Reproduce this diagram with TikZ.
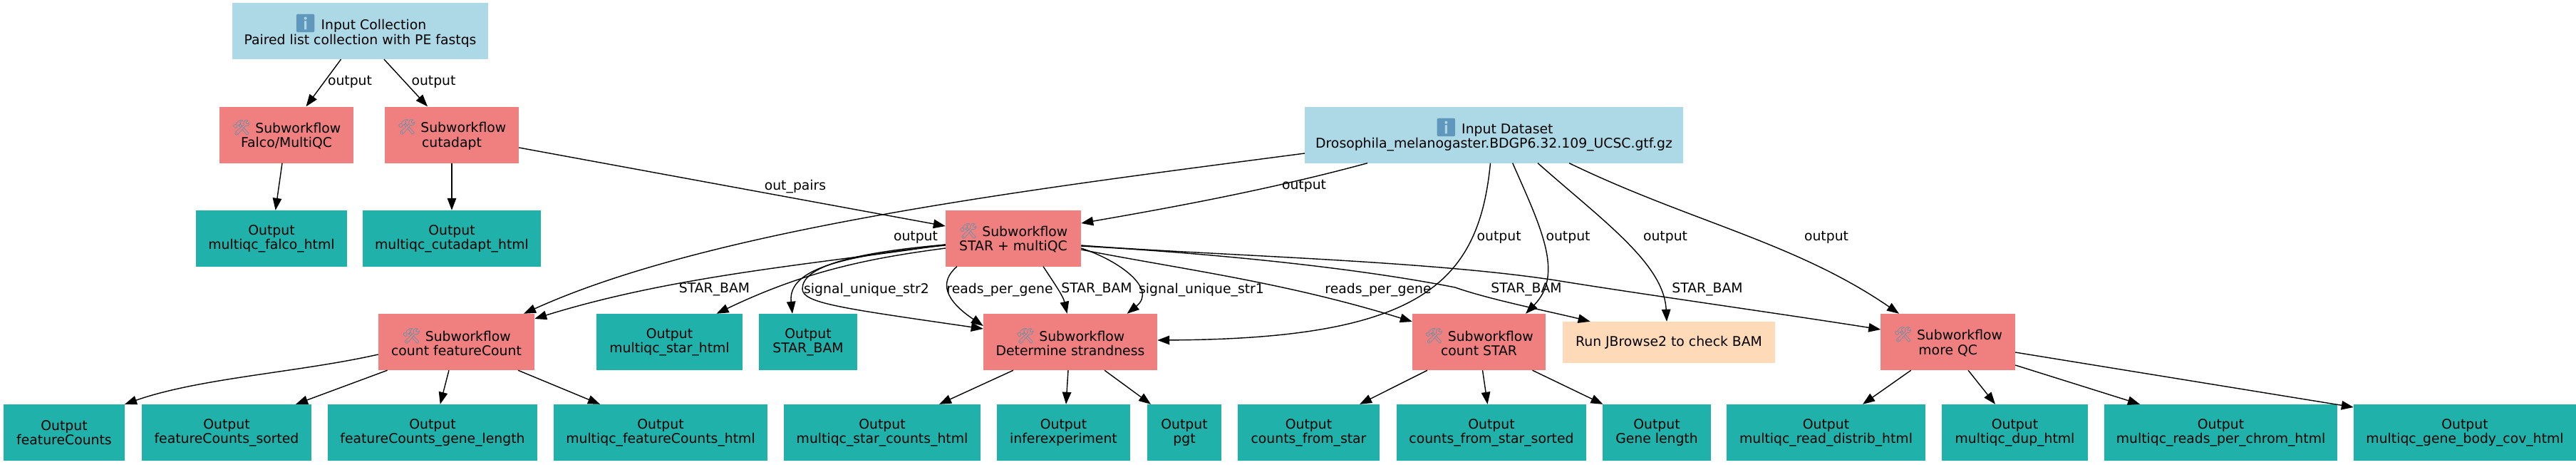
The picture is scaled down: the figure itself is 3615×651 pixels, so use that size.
\documentclass[tikz,border=0pt]{standalone}
\usepackage{fontspec}
\setmainfont{DejaVu Sans}
\newfontfamily\emofont{Noto Emoji}
\usetikzlibrary{arrows.meta}
\definecolor{inpc}{HTML}{ADD8E6}
\definecolor{subc}{HTML}{F08080}
\definecolor{outc}{HTML}{20B2AA}
\definecolor{jbc}{HTML}{FFDAB9}
\definecolor{toolc}{HTML}{5F93AB}
\definecolor{infoc}{HTML}{5F97BD}
\newcommand\toolmark{{\emofont\fontsize{21}{20.5}\selectfont\textcolor{toolc}{🛠}}}
\newcommand\infomark{{\emofont\fontsize{25}{20.5}\selectfont\textcolor{infoc}{ℹ}}}
\tikzset{
  wfbox/.style={draw=none,inner sep=0pt,align=center,font=\fontsize{18.8}{20.5}\selectfont},
  inbox/.style={wfbox,fill=inpc,minimum height=79pt},
  subbox/.style={wfbox,fill=subc,minimum height=79pt},
  outbox/.style={wfbox,fill=outc,minimum height=79pt},
  jbbox/.style={wfbox,fill=jbc,minimum height=58pt},
  edge/.style={-{Triangle[length=17pt,width=12.5pt]},line width=1.4pt,black},
  lab/.style={inner sep=0pt,font=\fontsize{18.8}{20.5}\selectfont}
}
\begin{document}
\begin{tikzpicture}[x=1pt,y=-1pt]
\useasboundingbox (0,0) rectangle (3615,651);
\fill[white] (0,0) rectangle (3615,651);
% nodes
\node[inbox,minimum width=359pt] (ic) at (505.5,43.5) {\infomark{} Input Collection\\Paired list collection with PE fastqs};
\node[subbox,minimum width=188pt] (falco) at (402,189) {\toolmark{} Subworkflow\\Falco/MultiQC};
\node[subbox,minimum width=188pt] (cut) at (634,189) {\toolmark{} Subworkflow\\cutadapt};
\node[outbox,minimum width=212pt] (oF) at (381,334.5) {Output\\multiqc\_falco\_html};
\node[outbox,minimum width=250pt] (oC) at (634,334.5) {Output\\multiqc\_cutadapt\_html};
\node[inbox,minimum width=531pt] (ds) at (2096.5,189) {\infomark{} Input Dataset\\Drosophila\_melanogaster.BDGP6.32.109\_UCSC.gtf.gz};
\node[subbox,minimum width=190pt] (star) at (1422,334) {\toolmark{} Subworkflow\\STAR + multiQC};
\node[subbox,minimum width=219pt] (fc) at (640.5,479.5) {\toolmark{} Subworkflow\\count featureCount};
\node[outbox,minimum width=205pt] (mstar) at (939.5,479.5) {Output\\multiqc\_star\_html};
\node[outbox,minimum width=138pt] (obam) at (1134,479.5) {Output\\STAR\_BAM};
\node[subbox,minimum width=244pt] (det) at (1502,479.5) {\toolmark{} Subworkflow\\Determine strandness};
\node[subbox,minimum width=187pt] (cstar) at (2075.5,479.5) {\toolmark{} Subworkflow\\count STAR};
\node[jbbox,minimum width=298pt] (jb) at (2342,480) {Run JBrowse2 to check BAM};
\node[subbox,minimum width=188.5pt] (mqc) at (2733.7,479.5) {\toolmark{} Subworkflow\\more QC};
\node[outbox,minimum width=170pt] (o1) at (90,606.5) {Output\\featureCounts};
\node[outbox,minimum width=238pt] (o2) at (318,606.5) {Output\\featureCounts\_sorted};
\node[outbox,minimum width=294pt] (o3) at (607,606.5) {Output\\featureCounts\_gene\_length};
\node[outbox,minimum width=300pt] (o4) at (927,606.5) {Output\\multiqc\_featureCounts\_html};
\node[outbox,minimum width=276pt] (o5) at (1238,606.5) {Output\\multiqc\_star\_counts\_html};
\node[outbox,minimum width=187pt] (o6) at (1492.5,606.5) {Output\\inferexperiment};
\node[outbox,minimum width=104pt] (o7) at (1662,606.5) {Output\\pgt};
\node[outbox,minimum width=199pt] (o8) at (1836.5,606.5) {Output\\counts\_from\_star};
\node[outbox,minimum width=266pt] (o9) at (2093,606.5) {Output\\counts\_from\_star\_sorted};
\node[outbox,minimum width=152pt] (o10) at (2325,606.5) {Output\\Gene length};
\node[outbox,minimum width=279pt] (o11) at (2562.5,606.5) {Output\\multiqc\_read\_distrib\_html};
\node[outbox,minimum width=205pt] (o12) at (2827.5,606.5) {Output\\multiqc\_dup\_html};
\node[outbox,minimum width=327pt] (o13) at (3116.5,606.5) {Output\\multiqc\_reads\_per\_chrom\_html};
\node[outbox,minimum width=312pt] (o14) at (3459,606.5) {Output\\multiqc\_gene\_body\_cov\_html};
% edges
\begin{scope}[every path/.append style={edge}]
\draw ([xshift=-27pt]ic.south) -- ([xshift=27.5pt]falco.north);
\draw ([xshift=33.5pt]ic.south) -- ([xshift=-34pt]cut.north);
\draw ([xshift=-6pt]falco.south) -- ([xshift=5.6pt]oF.north);
\draw (cut.south) -- (oC.north);
\draw ([yshift=-18pt]cut.east) -- ([yshift=17pt]star.west);
\draw ([yshift=-26pt]ds.west) .. controls (1450,265) and (1000,320) .. ([xshift=94.5pt]fc.north);
\draw ([xshift=-177.5pt]ds.south) .. controls (1785,265) and (1650,290) .. ([yshift=21pt]star.east);
\draw ([xshift=-5pt]ds.south) .. controls (2075,400) and (1990,475) .. ([yshift=2.5pt]det.east);
\draw ([xshift=26.2pt]ds.south) .. controls (2163,320) and (2195,385) .. ([xshift=65.5pt]cstar.north);
\draw ([xshift=61.5pt]ds.south) .. controls (2250,310) and (2335,370) .. ([xshift=-3pt]jb.north);
\draw ([xshift=105.5pt]ds.south) .. controls (2370,310) and (2520,340) .. ([xshift=-68.7pt]mqc.north);
\draw ([yshift=-9pt]star.west) .. controls (1150,370) and (950,385) .. ([yshift=32.5pt]fc.east);
\draw ([yshift=-14pt]star.west) .. controls (1220,362) and (1130,380) .. ([xshift=66pt]mstar.north);
\draw ([yshift=-10pt]star.west) .. controls (1190,358) and (1105,375) .. ([xshift=-22pt]obam.north);
\draw ([yshift=-9pt]star.west) .. controls (1190,355) and (1126,375) .. (1126,405) .. controls (1126,425) and (1180,432) .. ([yshift=18.5pt]det.west);
\draw ([xshift=-79pt]star.south) .. controls (1318,395) and (1325,420) .. ([yshift=22.5pt]det.west);
\draw ([xshift=42pt]star.south) .. controls (1478,395) and (1492,415) .. ([xshift=-4.5pt]det.north);
\draw ([yshift=-14pt]star.east) .. controls (1570,365) and (1625,405) .. ([xshift=79.6pt]det.north);
\draw ([yshift=-16pt]star.east) .. controls (1660,378) and (1800,395) .. ([yshift=28.5pt]cstar.west);
\draw ([yshift=-11pt]star.east) .. controls (1700,355) and (1900,375) .. (2042,403) .. controls (2090,420) and (2180,438) .. ([xshift=-110.4pt]jb.north);
\draw ([yshift=-10pt]star.east) .. controls (1700,358) and (2000,365) .. (2183,393) .. controls (2300,412) and (2500,440) .. ([yshift=17.5pt]mqc.west);
\draw ([yshift=-17.5pt]fc.west) .. controls (420,522) and (280,530) .. ([xshift=85pt]o1.north);
\draw ([xshift=-96.9pt]fc.south) -- ([xshift=97pt]o2.north);
\draw ([xshift=-10.5pt]fc.south) -- ([xshift=10.7pt]o3.north);
\draw ([xshift=86.5pt]fc.south) -- ([xshift=-85pt]o4.north);
\draw ([xshift=-80pt]det.south) -- ([xshift=80pt]o5.north);
\draw ([xshift=-3pt]det.south) -- ([xshift=3.5pt]o6.north);
\draw ([xshift=48pt]det.south) -- ([xshift=-47pt]o7.north);
\draw ([xshift=-72.5pt]cstar.south) -- ([xshift=71.5pt]o8.north);
\draw ([xshift=5pt]cstar.south) -- ([xshift=-5.5pt]o9.north);
\draw ([xshift=75pt]cstar.south) -- ([xshift=-75.5pt]o10.north);
\draw ([xshift=-52pt]mqc.south) -- ([xshift=51.5pt]o11.north);
\draw ([xshift=28.3pt]mqc.south) -- ([xshift=-27.5pt]o12.north);
\draw ([yshift=-32.5pt]mqc.east) -- ([xshift=-113.5pt]o13.north);
\draw ([yshift=-14.5pt]mqc.east) -- ([yshift=35.5pt]o14.west);
\end{scope}
% labels
\node[lab] (l1) at (491,115) {output};
\node[lab] (l2) at (608.5,115) {output};
\node[lab] (l3) at (1116,262) {out\_pairs};
\node[lab] (l4) at (1285,333) {output};
\node[lab] (l5) at (1830,261) {output};
\node[lab] (l6) at (2103.6,333) {output};
\node[lab] (l7) at (2200.5,333) {output};
\node[lab] (l8) at (2337,333) {output};
\node[lab] (l9) at (2563,333) {output};
\node[lab] (l10) at (1002.5,406) {STAR\_BAM};
\node[lab] (l11) at (1216,407) {signal\_unique\_str2};
\node[lab] (l12) at (1403,407) {reads\_per\_gene};
\node[lab] (l13) at (1539,406) {STAR\_BAM};
\node[lab] (l14) at (1686,407) {signal\_unique\_str1};
\node[lab] (l15) at (1934,407) {reads\_per\_gene};
\node[lab] (l16) at (2142,406) {STAR\_BAM};
\node[lab] (l17) at (2396,406) {STAR\_BAM};
\end{tikzpicture}
\end{document}
